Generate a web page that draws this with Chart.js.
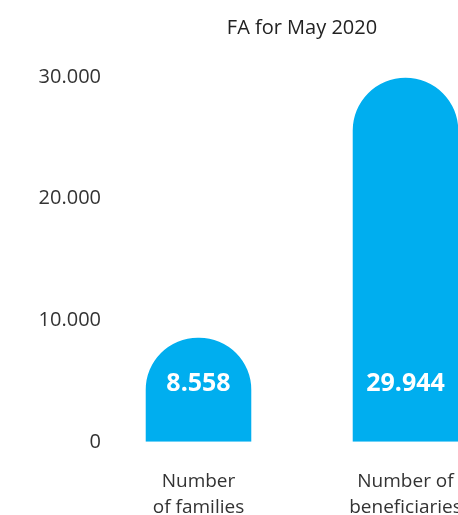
<!DOCTYPE html>
<html>
<head>
<meta charset="utf-8">
<script src="https://cdn.jsdelivr.net/npm/chart.js@4.4.1/dist/chart.umd.min.js"></script>
<style>
  html, body { margin: 0; padding: 0; background: #fff; overflow: hidden; }
  #wrap { position: relative; width: 515px; height: 547px; }
</style>
</head>
<body>
<div id="wrap"><canvas id="barChart"></canvas></div>
<script>
// bars
var categories = [["Number", "of families"], ["Number of", "beneficiaries"]];
var values = [8558, 29944];
var tickLabels = {0: "0", 10000: "10.000", 20000: "20.000", 30000: "30.000"};

function fmt(v) {
  return String(v).replace(/\B(?=(\d{3})+(?!\d))/g, ".");
}

// white value text near the foot of each bar
var valueText = {
  id: 'valueText',
  afterDatasetsDraw: function (chart) {
    var ctx = chart.ctx;
    var base = chart.scales.y.getPixelForValue(0);
    ctx.save();
    ctx.fillStyle = '#ffffff';
    ctx.font = 'bold 25px "Open Sans"';
    ctx.textAlign = 'center';
    ctx.textBaseline = 'middle';
    chart.getDatasetMeta(0).data.forEach(function (bar, i) {
      ctx.fillText(fmt(values[i]), bar.x, base - 58);
    });
    ctx.restore();
  }
};

var ctxB = document.getElementById("barChart").getContext('2d');
var myBarChart = new Chart(ctxB, {
  type: 'bar',
  data: {
    labels: categories,
    datasets: [{
      data: values,
      backgroundColor: "#00aeef",
      borderRadius: { topLeft: 60, topRight: 60 },
      borderSkipped: 'start',
      barPercentage: 0.51,
      categoryPercentage: 1
    }]
  },
  options: {
    responsive: true,
    maintainAspectRatio: false,
    animation: false,
    layout: { padding: { left: 0, right: 6, top: 0, bottom: 0 } },
    plugins: {
      legend: { display: false },
      tooltip: { enabled: false },
      title: {
        display: true,
        fullSize: false,
        text: "FA for May 2020",
        color: "#222",
        font: { family: "Open Sans", size: 20, weight: 'normal' },
        padding: { top: 16, bottom: 37 }
      }
    },
    scales: {
      x: {
        grid: { display: false, drawTicks: false },
        border: { display: false },
        ticks: {
          color: "#333",
          padding: 26,
          maxRotation: 0,
          font: { family: "Open Sans", size: 19, lineHeight: 1.4 }
        }
      },
      y: {
        min: 0,
        max: 30000,
        grid: { display: false, drawTicks: false },
        border: { display: false },
        afterFit: function (scale) {
          scale.width = 95;
          // labels sit a little past the axis edge, so don't clip them
          scale._computeLabelArea = function () {};
        },
        ticks: {
          stepSize: 10000,
          color: "#333",
          padding: -6,
          font: { family: "Open Sans", size: 20 },
          callback: function (v) { return tickLabels[v]; }
        }
      }
    }
  },
  plugins: [valueText]
});
</script>
</body>
</html>
